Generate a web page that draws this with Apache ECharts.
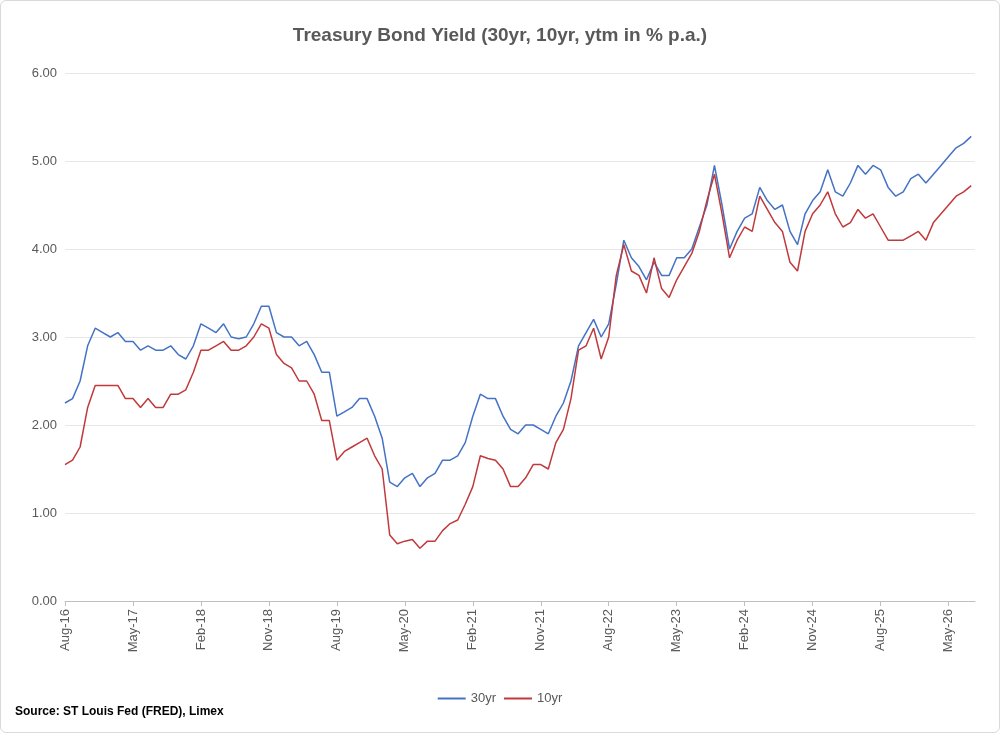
<!DOCTYPE html>
<html><head><meta charset="utf-8">
<script src="https://cdn.jsdelivr.net/npm/echarts@6/dist/echarts.min.js"></script>
<style>html,body{margin:0;background:#fff}#c{width:998px;height:731px;border:1px solid #d9d9d9;border-radius:6px}</style>
</head><body><div id="c"></div>
<script>
// month index 0 = Aug-2016
const yield30 = [2.25,2.3,2.5,2.9,3.1,3.05,3.0,3.05,2.95,2.95,2.85,2.9,2.85,2.85,2.9,2.8,2.75,2.9,3.15,3.1,3.05,3.15,3.0,2.98,3.0,3.15,3.35,3.35,3.05,3.0,3.0,2.9,2.95,2.8,2.6,2.6,2.1,2.15,2.2,2.3,2.3,2.1,1.85,1.35,1.3,1.4,1.45,1.3,1.4,1.45,1.6,1.6,1.65,1.8,2.1,2.35,2.3,2.3,2.1,1.95,1.9,2.0,2.0,1.95,1.9,2.1,2.25,2.5,2.9,3.05,3.2,3.0,3.15,3.6,4.1,3.9,3.8,3.65,3.85,3.7,3.7,3.9,3.9,4.0,4.25,4.5,4.95,4.5,4.0,4.2,4.35,4.4,4.7,4.55,4.45,4.5,4.2,4.05,4.4,4.55,4.65,4.9,4.65,4.6,4.75,4.95,4.85,4.95,4.9,4.7,4.6,4.65,4.8,4.85,4.75,4.85,4.95,5.05,5.15,5.2,5.28];
const yield10 = [1.55,1.6,1.75,2.2,2.45,2.45,2.45,2.45,2.3,2.3,2.2,2.3,2.2,2.2,2.35,2.35,2.4,2.6,2.85,2.85,2.9,2.95,2.85,2.85,2.9,3.0,3.15,3.1,2.8,2.7,2.65,2.5,2.5,2.35,2.05,2.05,1.6,1.7,1.75,1.8,1.85,1.65,1.5,0.75,0.65,0.68,0.7,0.6,0.68,0.68,0.8,0.88,0.92,1.1,1.3,1.65,1.62,1.6,1.5,1.3,1.3,1.4,1.55,1.55,1.5,1.8,1.95,2.3,2.85,2.9,3.1,2.75,3.0,3.7,4.05,3.75,3.7,3.5,3.9,3.55,3.45,3.65,3.8,3.95,4.2,4.55,4.85,4.4,3.9,4.1,4.25,4.2,4.6,4.45,4.3,4.2,3.85,3.75,4.2,4.4,4.5,4.65,4.4,4.25,4.3,4.45,4.35,4.4,4.25,4.1,4.1,4.1,4.15,4.2,4.1,4.3,4.4,4.5,4.6,4.65,4.72];
const monthNames = ['Jan','Feb','Mar','Apr','May','Jun','Jul','Aug','Sep','Oct','Nov','Dec'];
function lbl(i){const m=7+i;return monthNames[m%12]+'-'+String(16+Math.floor(m/12));}
const chart = echarts.init(document.getElementById('c'));
const txt = '#595959';
chart.setOption({
  animation:false,
  title:{text:'Treasury Bond Yield (30yr, 10yr, ytm in % p.a.)',left:'center',top:20,
    textStyle:{fontFamily:'Liberation Sans',fontSize:19,fontWeight:'bold',color:txt}},
  grid:{left:64,right:24,top:72,bottom:131},
  legend:{bottom:22,left:'center',itemWidth:28,itemHeight:2,icon:'rect',
    textStyle:{color:txt,fontSize:13,fontFamily:'Liberation Sans'},data:['30yr','10yr']},
  graphic:[{type:'text',left:14,top:705,style:{text:'Source: ST Louis Fed (FRED), Limex',font:'bold 12px Liberation Sans',fill:'#000'}}],
  xAxis:{type:'value',min:0,max:120.5,interval:9,
    axisLine:{lineStyle:{color:'#bfbfbf'}},axisTick:{show:true,length:5,lineStyle:{color:'#bfbfbf'}},
    splitLine:{show:false},
    axisLabel:{rotate:90,color:txt,fontSize:13,fontFamily:'Liberation Sans',formatter:v=>lbl(v),showMaxLabel:false}},
  yAxis:{type:'value',min:0,max:6,interval:1,
    axisLabel:{color:txt,fontSize:13,fontFamily:'Liberation Sans',formatter:v=>v.toFixed(2)},
    splitLine:{lineStyle:{color:'#e6e6e6'}},axisLine:{show:false},axisTick:{show:false}},
  series:[
    {name:'30yr',type:'line',showSymbol:false,data:yield30.map((v,i)=>[i,v]),lineStyle:{color:'#4472c4',width:1.5},itemStyle:{color:'#4472c4'}},
    {name:'10yr',type:'line',showSymbol:false,data:yield10.map((v,i)=>[i,v]),lineStyle:{color:'#c0393b',width:1.5},itemStyle:{color:'#c0393b'}}
  ]
});
</script></body></html>
